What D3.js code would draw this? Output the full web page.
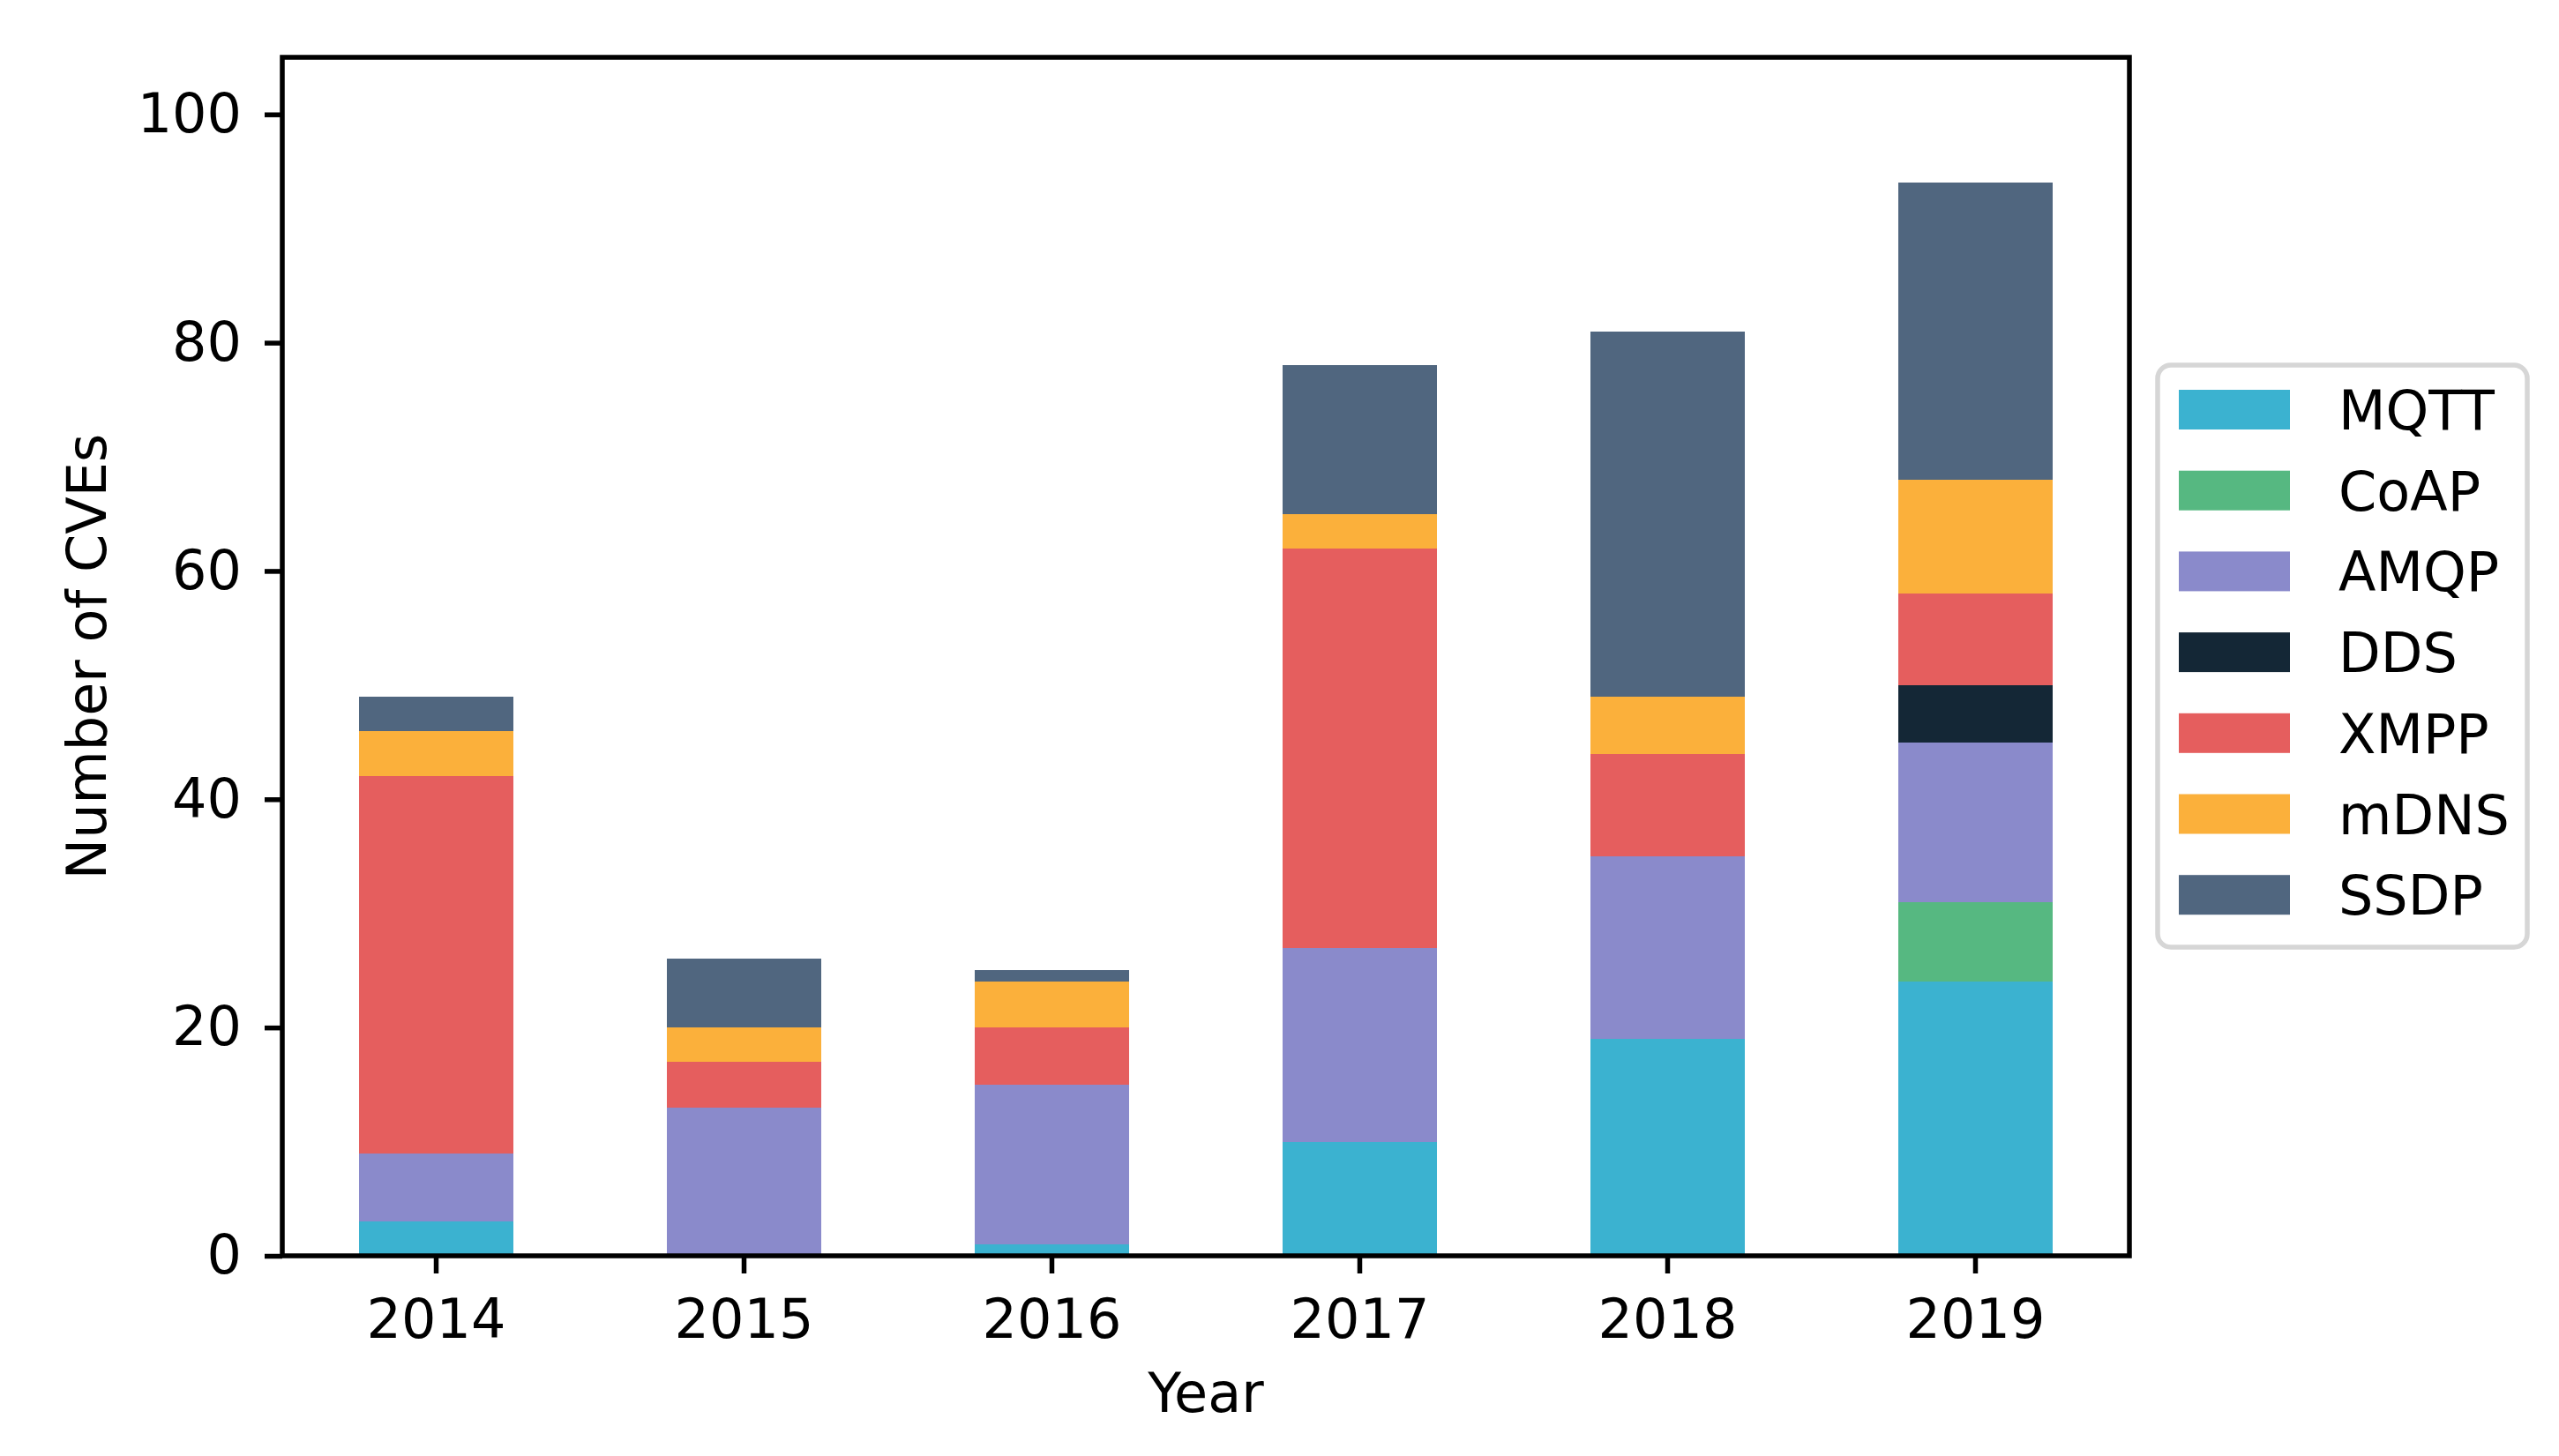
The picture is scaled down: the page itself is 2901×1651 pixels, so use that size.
<!DOCTYPE html>
<html lang="en">
<head>
  <meta charset="UTF-8">
  <title>CVEs per year by protocol</title>
  <script src="https://d3js.org/d3.v7.min.js"></script>
  <style>
    body {
      margin: 0;
      background: white;
    }

    svg {
      display: block;
      font-family: 'DejaVu Sans', sans-serif;
    }

    .tick text {
      font-size: 62px;
      fill: #000;
    }

    .axis-label {
      font-size: 62px;
      fill: #000;
    }

    .legend text {
      font-size: 62px;
      fill: #000;
    }
  </style>
</head>
<body>

<svg></svg>

<script>
// Data
const years = ["2014", "2015", "2016", "2017", "2018", "2019"];
const protocols = ["MQTT", "CoAP", "AMQP", "DDS", "XMPP", "mDNS", "SSDP"];
const colors = ["#3bb2d0", "#56b881", "#8a8acb", "#142736", "#e55e5e", "#fbb03b", "#50667f"];

const mqtt = [3, 0, 1, 10, 19, 24];
const coap = [0, 0, 0, 0, 0, 7];
const amqp = [6, 13, 14, 17, 16, 14];
const dds  = [0, 0, 0, 0, 0, 5];
const xmpp = [33, 4, 5, 35, 9, 8];
const mdns = [4, 3, 4, 3, 5, 10];
const ssdp = [3, 6, 1, 13, 32, 26];

const yTicks = [0, 20, 40, 60, 80, 100];

const series = [mqtt, coap, amqp, dds, xmpp, mdns, ssdp];

// build rows for d3.stack
const table = years.map((y, i) => {
  const row = { year: y };
  protocols.forEach((p, j) => { row[p] = series[j][i]; });
  return row;
});

const width = 2901, height = 1651;
const margin = { top: 65, right: 487, bottom: 227, left: 320 };

const svg = d3.select("svg")
  .attr("width", width)
  .attr("height", height)
  .attr("viewBox", [0, 0, width, height]);

const x = d3.scaleBand()
  .domain(years)
  .range([margin.left, width - margin.right])
  .paddingInner(0.5)
  .paddingOuter(0.25);

const y = d3.scaleLinear()
  .domain([0, 105])
  .range([height - margin.bottom, margin.top]);

const color = d3.scaleOrdinal().domain(protocols).range(colors);

const stacked = d3.stack().keys(protocols)(table);

// bars
svg.append("g")
  .selectAll("g")
  .data(stacked)
  .join("g")
    .attr("fill", d => color(d.key))
  .selectAll("rect")
  .data(d => d)
  .join("rect")
    .attr("x", d => x(d.data.year))
    .attr("y", d => y(d[1]))
    .attr("width", x.bandwidth())
    .attr("height", d => y(d[0]) - y(d[1]))
    .attr("shape-rendering", "crispEdges");

// axes
const tickLen = 20, lw = 5.5;

const xAxis = svg.append("g")
  .attr("transform", `translate(0,${height - margin.bottom})`)
  .call(d3.axisBottom(x).tickSize(tickLen).tickPadding(29).tickSizeOuter(0));

const yAxis = svg.append("g")
  .attr("transform", `translate(${margin.left},0)`)
  .call(d3.axisLeft(y).tickValues(yTicks).tickSize(tickLen).tickPadding(26).tickSizeOuter(0));

[xAxis, yAxis].forEach(g => {
  g.select(".domain").remove();
  g.selectAll(".tick line").attr("stroke", "#000").attr("stroke-width", lw);
  g.selectAll(".tick text").attr("font-family", "DejaVu Sans");
});
xAxis.selectAll(".tick text").attr("dy", "0.71em");

// frame
svg.append("rect")
  .attr("x", margin.left)
  .attr("y", margin.top)
  .attr("width", width - margin.left - margin.right)
  .attr("height", height - margin.top - margin.bottom)
  .attr("fill", "none")
  .attr("stroke", "#000")
  .attr("stroke-width", lw);

// axis labels
svg.append("text")
  .attr("class", "axis-label")
  .attr("x", (margin.left + width - margin.right) / 2)
  .attr("y", 1601)
  .attr("text-anchor", "middle")
  .text("Year");

svg.append("text")
  .attr("class", "axis-label")
  .attr("transform", `translate(120,${(margin.top + height - margin.bottom) / 2}) rotate(-90)`)
  .attr("text-anchor", "middle")
  .text("Number of CVEs");

// legend
const legend = svg.append("g").attr("class", "legend");

legend.append("rect")
  .attr("x", 2446)
  .attr("y", 414)
  .attr("width", 419)
  .attr("height", 660)
  .attr("rx", 15)
  .attr("fill", "white")
  .attr("stroke", "#d6d6d6")
  .attr("stroke-width", 5.5);

const rowGap = 91.7;
const item = legend.selectAll("g.item")
  .data(protocols)
  .join("g")
    .attr("class", "item")
    .attr("transform", (d, i) => `translate(2470,${464.5 + i * rowGap})`);

item.append("rect")
  .attr("x", 0)
  .attr("y", -22.5)
  .attr("width", 126)
  .attr("height", 45)
  .attr("fill", d => color(d));

item.append("text")
  .attr("x", 181)
  .attr("y", 22.5)
  .text(d => d);
</script>

</body>
</html>
